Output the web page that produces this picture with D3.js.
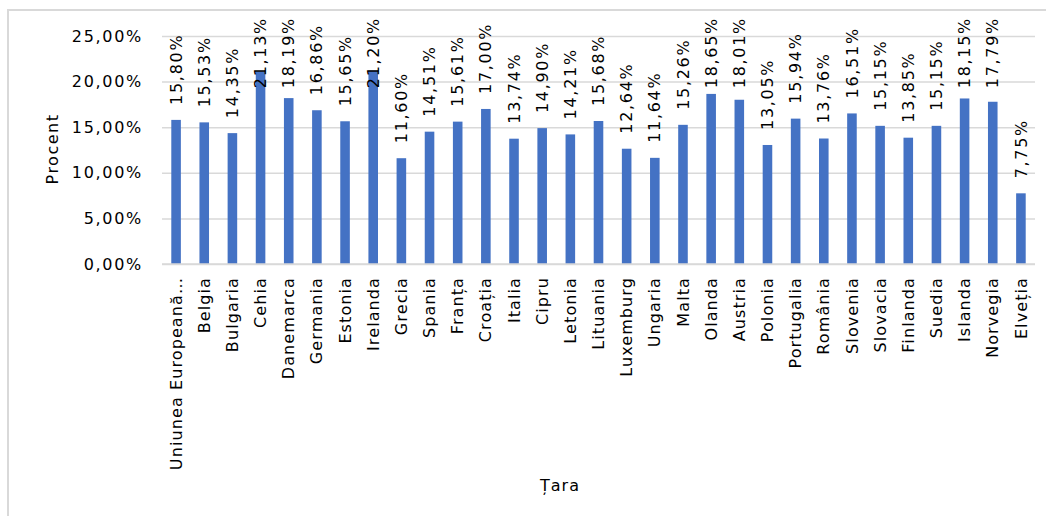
<!DOCTYPE html>
<html>
<head>
<meta charset="utf-8">
<script src="https://cdn.jsdelivr.net/npm/d3@7"></script>
<style>
  html, body { margin: 0; padding: 0; background: #fff; }
  svg { display: block; }
  text { font-family: "DejaVu Sans", Verdana, sans-serif; fill: #000; }
</style>
</head>
<body>
<svg id="chart" width="1046" height="516"></svg>
<script>
// Share of population per country (percent)
const countries = [
  "Uniunea Europeană…", "Belgia", "Bulgaria", "Cehia", "Danemarca", "Germania",
  "Estonia", "Irelanda", "Grecia", "Spania", "Franța", "Croația", "Italia",
  "Cipru", "Letonia", "Lituania", "Luxemburg", "Ungaria", "Malta", "Olanda",
  "Austria", "Polonia", "Portugalia", "România", "Slovenia", "Slovacia",
  "Finlanda", "Suedia", "Islanda", "Norvegia", "Elveția"
];
const values = [
  15.80, 15.53, 14.35, 21.13, 18.19, 16.86,
  15.65, 21.20, 11.60, 14.51, 15.61, 17.00, 13.74,
  14.90, 14.21, 15.68, 12.64, 11.64, 15.26, 18.65,
  18.01, 13.05, 15.94, 13.76, 16.51, 15.15,
  13.85, 15.15, 18.15, 17.79, 7.75
];
const yTicks = [0, 5, 10, 15, 20, 25];
const yTitle = "Procent";
const xTitle = "Țara";

const svg = d3.select("#chart");
const W = 1046, H = 516;
const plot = { left: 162, right: 1035, top: 36, bottom: 264 };

const fmt = v => v.toFixed(2).replace(".", ",") + "%";

// chart frame
svg.append("path")
  .attr("d", `M8,${H} L8,10 L${W},10`)
  .attr("fill", "none")
  .attr("stroke", "#d9d9d9")
  .attr("stroke-width", 2);

const x = d3.scaleBand()
  .domain(countries)
  .range([plot.left, plot.right])
  .paddingInner(0.66)
  .paddingOuter(0.33);

const y = d3.scaleLinear()
  .domain([0, 25])
  .range([plot.bottom, plot.top]);

// horizontal gridlines + value axis labels
const yAxis = d3.axisLeft(y)
  .tickValues(yTicks)
  .tickSize(-(plot.right - plot.left))
  .tickPadding(19)
  .tickFormat(fmt);

const gy = svg.append("g")
  .attr("transform", `translate(${plot.left},0)`)
  .call(yAxis);
gy.select(".domain").remove();
gy.selectAll(".tick line").attr("stroke", "#d9d9d9").attr("stroke-width", 1.5);
gy.selectAll(".tick text")
  .style("font-family", '"DejaVu Sans", Verdana, sans-serif')
  .style("font-size", "16px")
  .style("letter-spacing", "1.7px")
  .attr("fill", "#262626");

// bars
svg.append("g").selectAll("rect")
  .data(values)
  .join("rect")
  .attr("x", (d, i) => x(countries[i]))
  .attr("width", x.bandwidth())
  .attr("y", d => y(d))
  .attr("height", d => y(0) - y(d))
  .attr("fill", "#4472c4");

// category axis
const xAxis = d3.axisBottom(x).tickSize(0).tickPadding(0);
const gx = svg.append("g")
  .attr("transform", `translate(0,${plot.bottom})`)
  .call(xAxis);
gx.select(".domain").attr("stroke", "#d9d9d9").attr("stroke-width", 1.5)
  .attr("d", `M${plot.left},0H${plot.right}`);
gx.selectAll(".tick text")
  .attr("transform", "rotate(-90)")
  .attr("text-anchor", "end")
  .attr("x", -13)
  .attr("y", 0)
  .attr("dy", "0.35em")
  .style("font-family", '"DejaVu Sans", Verdana, sans-serif')
  .style("font-size", "16px")
  .style("letter-spacing", "1.1px")
  .attr("fill", "#000");

// value labels, rotated above each bar, kept inside the chart top
const labels = svg.append("g").selectAll("text")
  .data(values)
  .join("text")
  .attr("text-anchor", "start")
  .attr("dy", "0.35em")
  .style("font-size", "16px")
  .style("letter-spacing", "1.7px")
  .text(d => fmt(d));

labels.each(function(d, i) {
  const len = this.getComputedTextLength();
  const cx = x(countries[i]) + x.bandwidth() / 2;
  let base = y(d) - 15;
  if (base - len < 17) base = 17 + len;
  d3.select(this).attr("transform", `translate(${cx},${base}) rotate(-90)`);
});

// axis titles
svg.append("text")
  .attr("transform", `translate(52,149) rotate(-90)`)
  .attr("text-anchor", "middle")
  .attr("dy", "0.35em")
  .style("font-size", "16px")
  .style("letter-spacing", "1.5px")
  .text(yTitle);

svg.append("text")
  .attr("x", 560)
  .attr("y", 485)
  .attr("text-anchor", "middle")
  .attr("dy", "0.35em")
  .style("font-size", "16px")
  .style("letter-spacing", "1px")
  .text(xTitle);
</script>
</body>
</html>
